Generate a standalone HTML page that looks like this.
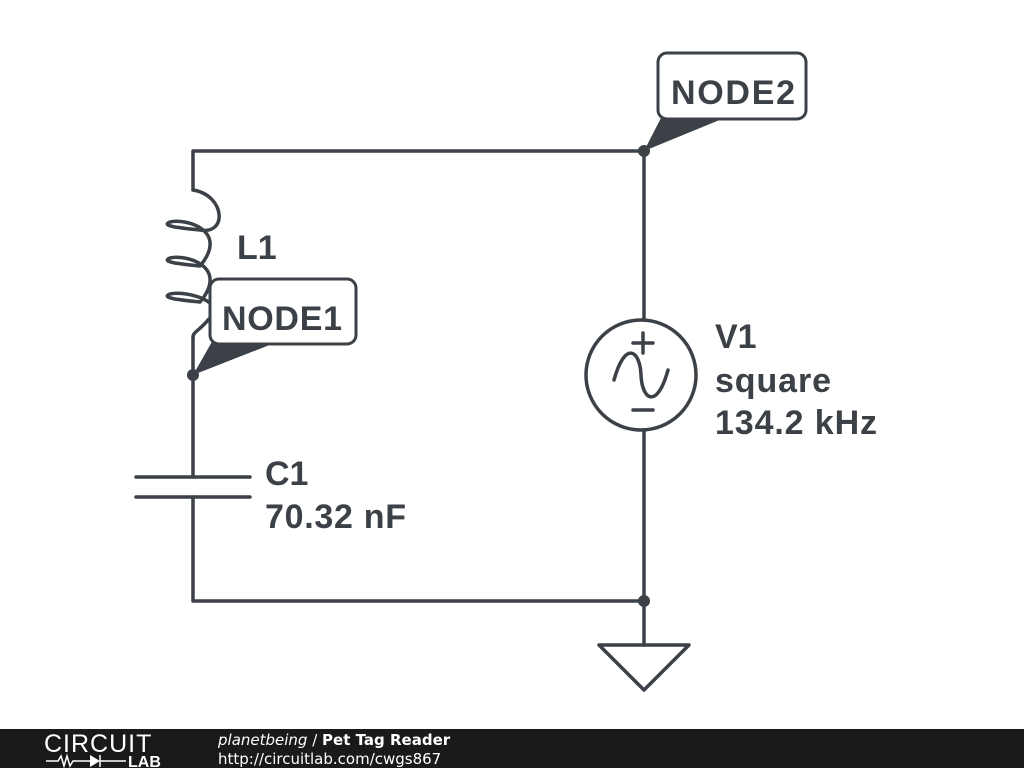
<!DOCTYPE html>
<html><head><style>
body{margin:0;width:1024px;height:768px;background:#fff;overflow:hidden;font-family:"DejaVu Sans",sans-serif}
</style></head><body>
<svg width="1024" height="768" viewBox="0 0 1024 768" xmlns="http://www.w3.org/2000/svg">
<g stroke="#3b4146" stroke-width="3.5" fill="none" stroke-linecap="round" stroke-linejoin="round">
<path d="M193 190 V151 H644 V320 M644 430 V645 M193 601 H644 M193 337 V477 M193 497 V601"/>
<path d="M136 477 H250 M136 497 H250"/>
<path d="M193 190 C225 195 228 235 200 230 C180 228 160 226 170 222 C185 218 230 230 200 266 C180 264 160 262 170 258 C185 254 230 266 200 302 C180 300 160 298 170 294 C185 290 230 302 208 320 C200 330 193 332 193 337"/>
<circle cx="641" cy="375" r="55"/>
<path d="M614 380 C625 340 640 350 641 375 C642 400 657 410 668 370"/>
<path d="M633 343 H653 M643 333 V353 M633 410 H653"/>
<path d="M599 645 H689 L644 690 Z"/>
</g>
<g fill="#3b4146">
<circle cx="193" cy="375" r="6"/>
<circle cx="644" cy="151" r="6"/>
<circle cx="644" cy="601" r="6"/>
<path d="M193 375 L213 340 L272 344 Z"/>
<path d="M644 151 L662 116 L722 119 Z"/>
</g>
<rect x="210" y="279" width="146" height="65" rx="9" fill="#fff" stroke="#3b4146" stroke-width="3"/>
<rect x="658" y="53" width="148" height="66" rx="9" fill="#fff" stroke="#3b4146" stroke-width="3"/>
<g fill="#3b4146" font-weight="bold" font-size="34" font-family="Liberation Sans,sans-serif">
<text x="222" y="330" textLength="120">NODE1</text>
<text x="671" y="104" textLength="124">NODE2</text>
<text x="237" y="259">L1</text>
<text x="265" y="485">C1</text>
<text x="265" y="528" textLength="141">70.32 nF</text>
<text x="715" y="348">V1</text>
<text x="715" y="392" textLength="116">square</text>
<text x="715" y="434" textLength="162">134.2 kHz</text>
</g>
<rect x="0" y="729" width="1024" height="39" fill="#1a1a1a"/>
<text x="44" y="752" fill="#fff" font-size="25" font-family="Liberation Sans,sans-serif" letter-spacing="1">CIRCUIT</text>
<text x="128" y="767" fill="#fff" font-size="16" font-weight="bold" font-family="Liberation Sans,sans-serif">LAB</text>
<path d="M46 761 H58 L61 756 L64 766 L67 756 L70 766 L73 761 H90 M100 755 V767 M100 761 H126" stroke="#fff" stroke-width="1.5" fill="none"/>
<path d="M90 755 L100 761 L90 767 Z" fill="#fff"/>
<text x="218" y="745" fill="#fff" font-size="15"><tspan font-style="italic">planetbeing</tspan> / <tspan font-weight="bold">Pet Tag Reader</tspan></text>
<text x="218" y="764" fill="#fff" font-size="15">http://circuitlab.com/cwgs867</text>
</svg>
</body></html>
